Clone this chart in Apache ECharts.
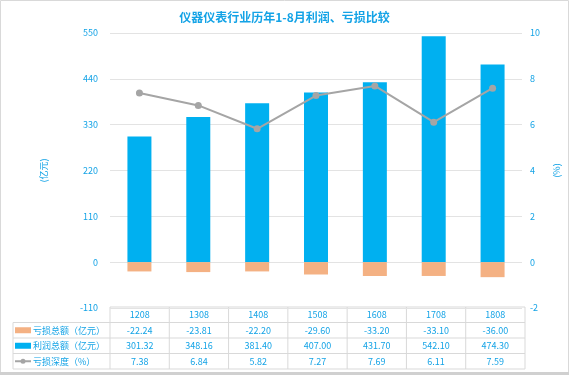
<!DOCTYPE html>
<html><head><meta charset="utf-8">
<script src="https://cdn.jsdelivr.net/npm/echarts@6/dist/echarts.min.js"></script>
<style>html,body{margin:0;padding:0;background:#fff}#c{width:569px;height:375px}</style>
</head><body><div id="c"></div>
<script>
const categories = ['1208','1308','1408','1508','1608','1708','1808'];
const lossValues = [-22.24,-23.81,-22.20,-29.60,-33.20,-33.10,-36.00];
const profitValues = [301.32,348.16,381.40,407.00,431.70,542.10,474.30];
const depthValues = [7.38,6.84,5.82,7.27,7.69,6.11,7.59];
const seriesNames = ['亏损总额（亿元）','利润总额（亿元）','亏损深度（%）'];
const titleText = '仪器仪表行业历年1-8月利润、亏损比较';

const TXT = '#14A3E6';
const FONT = '"Noto Sans CJK SC", "Noto Sans", sans-serif';
const COL_LOSS = '#F4B183', COL_PROFIT = '#00B0F0', COL_LINE = '#A5A5A5';
const W = 569, H = 375;
const gL = 110, gR = 525, gT = 33, gB = 308;
const rowsY = [307, 322.5, 338, 353.5, 369];
const legX0 = 13;

const chart = echarts.init(document.getElementById('c'), null, {renderer:'canvas'});

function fmt(v){ return v.toFixed(2); }

const graphics = [];
graphics.push({type:'rect', shape:{x:0.5,y:0.5,width:W-1,height:H-3}, style:{fill:'none', stroke:'#D9D9D9', lineWidth:1}, silent:true});
graphics.push({type:'line', shape:{x1:0,y1:H-1.5,x2:W,y2:H-1.5}, style:{stroke:'#D0D0D0', lineWidth:3}, silent:true});
const cw = (gR - gL) / categories.length;
// horizontal lines
rowsY.forEach((y,i)=>{
  graphics.push({type:'line', shape:{x1:(i===0?gL:legX0), y1:y, x2:gR, y2:y}, style:{stroke:'#D9D9D9', lineWidth:1}, silent:true});
});
// vertical lines
for (let i=0;i<=categories.length;i++){
  const x = gL + cw*i;
  graphics.push({type:'line', shape:{x1:x, y1:rowsY[0], x2:x, y2:rowsY[4]}, style:{stroke:'#D9D9D9', lineWidth:1}, silent:true});
}
graphics.push({type:'line', shape:{x1:legX0, y1:rowsY[1], x2:legX0, y2:rowsY[4]}, style:{stroke:'#D9D9D9', lineWidth:1}, silent:true});
// header texts
categories.forEach((c,i)=>{
  graphics.push({type:'text', x:gL+cw*(i+0.5), y:(rowsY[0]+rowsY[1])/2, style:{text:c, fill:TXT, font:'9px '+FONT, align:'center', verticalAlign:'middle'}, silent:true});
});
const rowData = [lossValues, profitValues, depthValues];
rowData.forEach((arr,r)=>{
  const yc = (rowsY[r+1]+rowsY[r+2])/2;
  arr.forEach((v,i)=>{
    graphics.push({type:'text', x:gL+cw*(i+0.5), y:yc, style:{text:fmt(v), fill:TXT, font:'9px '+FONT, align:'center', verticalAlign:'middle'}, silent:true});
  });
  // legend
  if (r<2){
    graphics.push({type:'rect', shape:{x:15, y:yc-3, width:16, height:6}, style:{fill: r===0?COL_LOSS:COL_PROFIT}, silent:true});
  } else {
    graphics.push({type:'line', shape:{x1:15,y1:yc,x2:31,y2:yc}, style:{stroke:COL_LINE, lineWidth:2}, silent:true});
    graphics.push({type:'circle', shape:{cx:23,cy:yc,r:2.5}, style:{fill:COL_LINE}, silent:true});
  }
  graphics.push({type:'text', x:33, y:yc, style:{text:seriesNames[r], fill:TXT, font:'9px '+FONT, align:'left', verticalAlign:'middle'}, silent:true});
});

chart.setOption({
  animation:false,
  textStyle:{fontFamily:FONT},
  title:{text:titleText, left:'center', top:6, textStyle:{color:TXT, fontSize:12, fontWeight:'bold', fontFamily:FONT}},
  grid:{left:gL, right:W-gR, top:gT, bottom:H-gB},
  xAxis:{type:'category', data:categories, axisLine:{show:false}, axisTick:{show:false}, axisLabel:{show:false}},
  yAxis:[
    {type:'value', min:-110, max:550, interval:110, name:'(亿元)', nameLocation:'middle', nameRotate:90, nameGap:62,
     nameTextStyle:{color:TXT, fontSize:9},
     axisLabel:{color:TXT, fontSize:9, margin:12}, axisLine:{show:false}, axisTick:{show:false},
     splitLine:{lineStyle:{color:'#E3E3E3', width:1}}},
    {type:'value', min:-2, max:10, interval:2, name:'(%)', nameLocation:'middle', nameRotate:90, nameGap:30,
     nameTextStyle:{color:TXT, fontSize:9},
     axisLabel:{color:TXT, fontSize:9, margin:8}, axisLine:{show:false}, axisTick:{show:false}, splitLine:{show:false}}
  ],
  series:[
    {name:seriesNames[1], type:'bar', stack:'a', data:profitValues, barWidth:24, itemStyle:{color:COL_PROFIT}},
    {name:seriesNames[0], type:'bar', stack:'a', data:lossValues, barWidth:24, itemStyle:{color:COL_LOSS}},
    {name:seriesNames[2], type:'line', yAxisIndex:1, data:depthValues, symbol:'circle', symbolSize:7,
     lineStyle:{color:COL_LINE, width:2}, itemStyle:{color:COL_LINE}, z:5}
  ],
  graphic:graphics
});
</script></body></html>
